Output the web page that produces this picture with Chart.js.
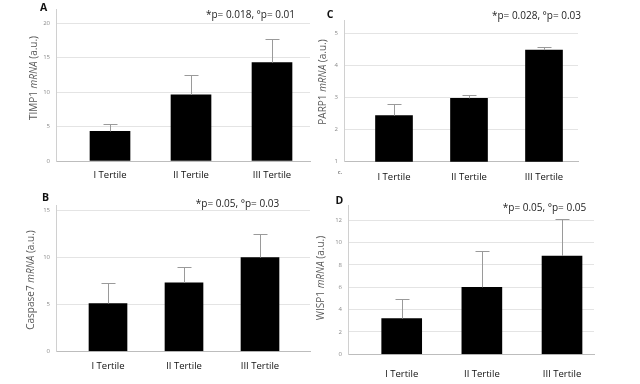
<!DOCTYPE html>
<html><head><meta charset="utf-8">
<script src="https://cdn.jsdelivr.net/npm/chart.js@4.4.1/dist/chart.umd.min.js"></script>
<style>
body{margin:0;background:#fff;}
#wrap{position:relative;width:640px;height:384px;overflow:hidden;font-family:'Open Sans',sans-serif;background:#fff;}
canvas{position:absolute;}
.t{position:absolute;white-space:nowrap;line-height:1;transform:translate(-50%,-50%);}
.yt{position:absolute;white-space:nowrap;line-height:1;transform:translate(-50%,-50%) rotate(-90deg);font-size:10px;color:#595959;}
.let{font-weight:bold;font-size:10.5px;color:#111;}
.p{font-size:10px;color:#222;}
</style></head>
<body><div id="wrap">
<canvas id="cA" width="320" height="190" style="left:0;top:0"></canvas>
<canvas id="cC" width="320" height="190" style="left:320px;top:0"></canvas>
<canvas id="cB" width="320" height="194" style="left:0;top:190px"></canvas>
<canvas id="cD" width="320" height="194" style="left:320px;top:190px"></canvas>

<div class="t let" style="left:43.5px;top:6.5px">A</div>
<div class="t let" style="left:330px;top:13.5px">C</div>
<div class="t let" style="left:45.5px;top:196.5px">B</div>
<div class="t let" style="left:339.5px;top:200px">D</div>

<div class="t p" style="left:250.5px;top:14px">*p= 0.018, °p= 0.01</div>
<div class="t p" style="left:536.5px;top:15px">*p= 0.028, °p= 0.03</div>
<div class="t p" style="left:237.5px;top:203px">*p= 0.05, °p= 0.03</div>
<div class="t p" style="left:544.5px;top:207px">*p= 0.05, °p= 0.05</div>

<div class="yt" style="left:33px;top:78px">TIMP1 <i>mRNA</i> (a.u.)</div>
<div class="yt" style="left:321.5px;top:82px">PARP1 <i>mRNA</i> (a.u.)</div>
<div class="yt" style="left:30px;top:280px">Caspase7 <i>mRNA</i> (a.u.)</div>
<div class="yt" style="left:320px;top:278px">WISP1 <i>mRNA</i> (a.u.)</div>

<div class="t" style="left:340px;top:172px;font-size:6px;color:#333">c.</div>
</div>
<script>
// ---- data ----
const categories = ['I Tertile', 'II Tertile', 'III Tertile'];

const timp1Values = [4.3, 9.6, 14.3];
const timp1Errors = [1.1, 2.9, 3.5];
const timp1Ticks  = [0, 5, 10, 15, 20];

const parp1Values = [2.44, 2.98, 4.49];
const parp1Errors = [0.35, 0.11, 0.10];
const parp1Ticks  = [1, 2, 3, 4, 5];

const casp7Values = [5.1, 7.3, 10.0];
const casp7Errors = [2.2, 1.7, 2.5];
const casp7Ticks  = [0, 5, 10, 15];

const wisp1Values = [3.2, 6.0, 8.8];
const wisp1Errors = [1.75, 3.25, 3.3];
const wisp1Ticks  = [0, 2, 4, 6, 8, 10, 12];

Chart.defaults.font.family = "'Open Sans', sans-serif";

function makePanel(id, values, errors, yTicks, L) {
  const errPlugin = {
    id: 'errbars',
    afterDatasetsDraw(chart) {
      const {ctx, scales: {x, y}} = chart;
      ctx.save();
      ctx.strokeStyle = '#9a9a9a';
      ctx.lineWidth = 1;
      values.forEach((v, i) => {
        const px = Math.round(x.getPixelForValue(i)) + 0.5;
        const y0 = y.getPixelForValue(v);
        const y1 = Math.round(y.getPixelForValue(v + errors[i])) + 0.5;
        ctx.beginPath();
        ctx.moveTo(px, y0); ctx.lineTo(px, y1);
        ctx.moveTo(px - 7, y1); ctx.lineTo(px + 7, y1);
        ctx.stroke();
      });
      ctx.restore();
    }
  };
  new Chart(document.getElementById(id), {
    type: 'bar',
    data: {
      datasets: [{
        data: values.map((v, i) => ({x: i, y: v})),
        backgroundColor: '#000',
        borderWidth: 0,
        barThickness: L.bar
      }]
    },
    options: {
      responsive: false,
      animation: false,
      devicePixelRatio: 1,
      layout: {padding: {top: L.top, right: L.right, left: 0, bottom: 0}},
      plugins: {legend: {display: false}, tooltip: {enabled: false}},
      scales: {
        x: {
          type: 'linear',
          offset: false,
          min: L.xMin, max: L.xMax,
          grid: {display: false, offset: false},
          border: {color: '#bdbdbd', width: 1},
          afterBuildTicks: s => { s.ticks = categories.map((c, i) => ({value: i})); },
          afterFit: s => { s.height = L.xH; },
          ticks: {
            autoSkip: false, maxRotation: 0, padding: L.lp,
            color: '#111', font: {size: 9.5},
            callback: v => categories[v]
          }
        },
        y: {
          min: L.yMin, max: L.yMax,
          grid: {color: '#e4e4e4', drawTicks: false},
          border: {color: '#d0d0d0', width: 1},
          afterBuildTicks: s => { s.ticks = yTicks.map(v => ({value: v})); },
          afterFit: s => { s.width = L.yW; },
          ticks: {color: '#8a8a8a', font: {size: 6}, padding: 6}
        }
      }
    },
    plugins: [errPlugin]
  });
}

makePanel('cA', timp1Values, timp1Errors, timp1Ticks,
  {top: 8, right: 10, yW: 56, xH: 29, yMin: 0, yMax: 22.0, xMin: -0.6667, xMax: 2.4691, bar: 40, lp: 1});
makePanel('cC', parp1Values, parp1Errors, parp1Ticks,
  {top: 20, right: 62, yW: 24, xH: 28.3, yMin: 1, yMax: 5.43, xMin: -0.6667, xMax: 2.4533, bar: 37, lp: 1.6});
makePanel('cB', casp7Values, casp7Errors, casp7Ticks,
  {top: 15, right: 10, yW: 56, xH: 32.7, yMin: 0, yMax: 15.6, xMin: -0.6842, xMax: 2.6579, bar: 38, lp: 1});
makePanel('cD', wisp1Values, wisp1Errors, wisp1Ticks,
  {top: 15, right: 46, yW: 28, xH: 29.7, yMin: 0, yMax: 13.37, xMin: -0.670, xMax: 2.399, bar: 40, lp: 6});
</script>
</body></html>
